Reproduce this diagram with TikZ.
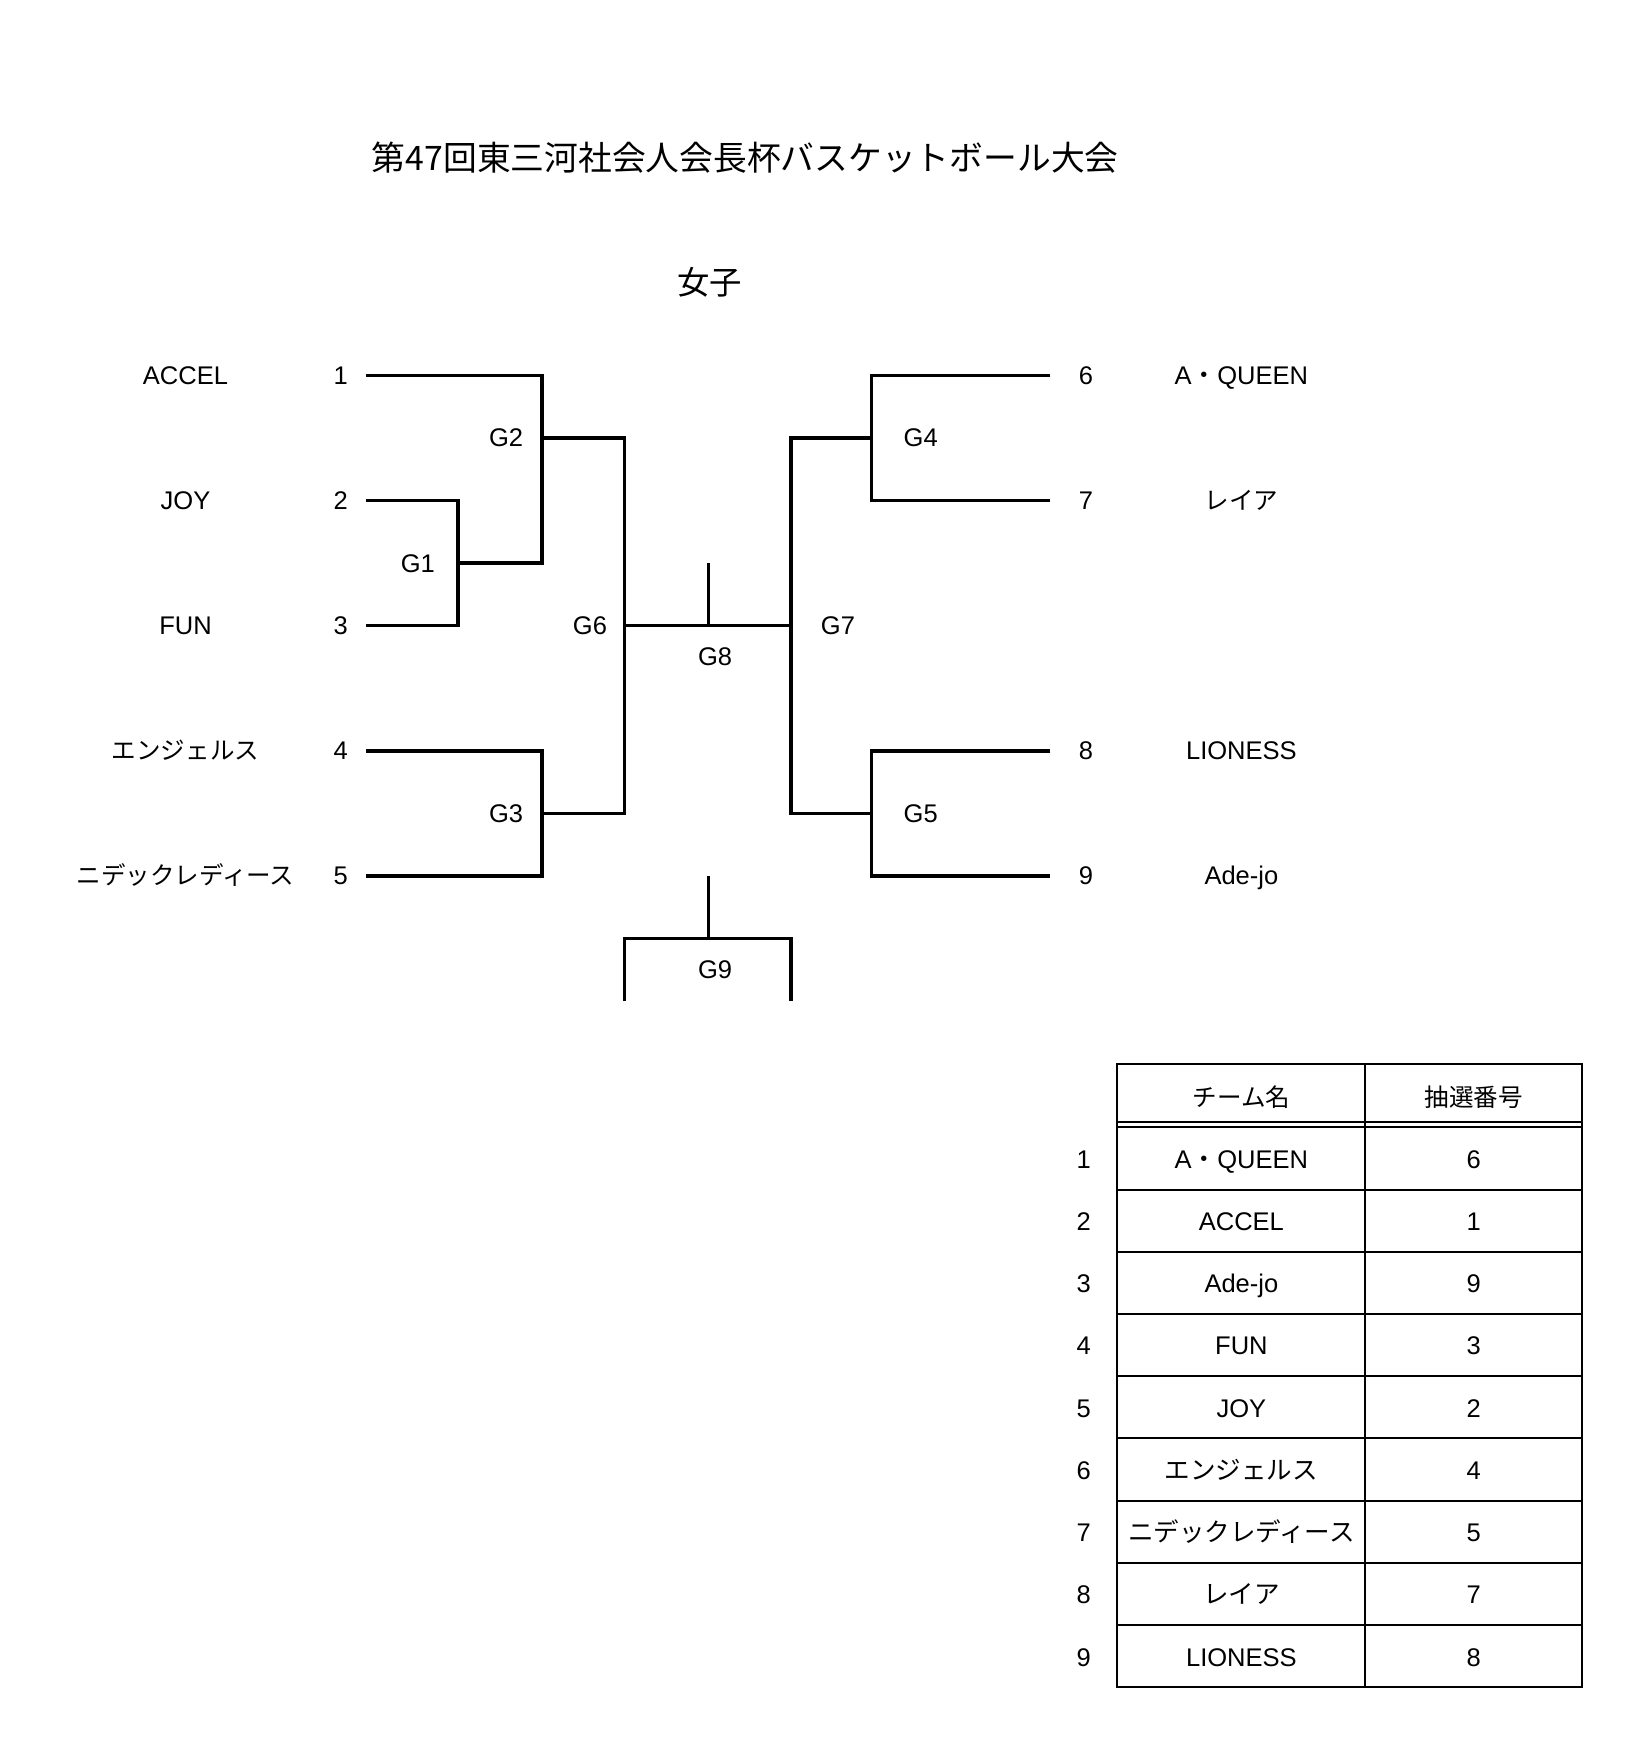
\documentclass[tikz,border=0pt]{standalone}
\usepackage{fontspec}
\setmainfont{Liberation Sans}
\newfontfamily\jp{Noto Sans CJK JP}
\usepackage{tikz}
\usetikzlibrary{calc}
\tikzstyle{tsText} = [
    text=black,
    font=\fontsize{13}{15}\selectfont,
    inner sep=0pt,
    text height=0.40cm,
    text depth=0.08cm
]
\tikzstyle{tsJp} = [
    tsText,
    font=\jp\fontsize{12.5}{15}\selectfont
]
\tikzstyle{tsBracket} = [
    draw=black,
    line width=0.06cm
]
\tikzstyle{tsTable} = [
    draw=black,
    line width=0.035cm
]
\begin{document}
\begin{tikzpicture} [x=0.02cm, y=-0.02cm]

        \useasboundingbox (0,0) rectangle (1472,1568);

        % Title
        \node[tsJp, font=\jp\fontsize{17.2}{20}\selectfont] (title) at (667,145) {第47回東三河社会人会長杯バスケットボール大会};
        \node[tsJp, font=\jp\fontsize{16.5}{20}\selectfont] (women) at (635,256) {女子};

        % Left teams with numbers
        \node[tsText] (accel) at (166,336) {ACCEL};
        \node[tsText] (joy) at (166,448) {JOY};
        \node[tsText] (fun) at (166,560) {FUN};
        \node[tsJp] (angels) at (166,672) {エンジェルス};
        \node[tsJp] (nidec) at (166,784) {ニデックレディース};
        \node[tsText] (n1) at (305,336) {1};
        \node[tsText] (n2) at (305,448) {2};
        \node[tsText] (n3) at (305,560) {3};
        \node[tsText] (n4) at (305,672) {4};
        \node[tsText] (n5) at (305,784) {5};

        % Right teams with numbers
        \node[tsText] (n6) at (972,336) {6};
        \node[tsText] (n7) at (972,448) {7};
        \node[tsText] (n8) at (972,672) {8};
        \node[tsText] (n9) at (972,784) {9};
        \node[tsText] (queen) at (1111,336) {A{\jp ・}QUEEN};
        \node[tsJp] (leia) at (1111,448) {レイア};
        \node[tsText] (lioness) at (1111,672) {LIONESS};
        \node[tsText] (adejo) at (1111,784) {Ade-jo};

        % Line ends next to the numbers
        \coordinate (p1) at (328,336);
        \coordinate (p2) at (328,448);
        \coordinate (p3) at (328,560);
        \coordinate (p4) at (328,672);
        \coordinate (p5) at (328,784);
        \coordinate (q6) at (940,336);
        \coordinate (q7) at (940,448);
        \coordinate (q8) at (940,672);
        \coordinate (q9) at (940,784);

        % Game points
        \coordinate (g1) at (410,504);
        \coordinate (g2) at (485,392);
        \coordinate (g3) at (485,728);
        \coordinate (g6) at (559,560);
        \coordinate (g7) at (708,560);
        \coordinate (g4) at (780,392);
        \coordinate (g5) at (780,728);
        \coordinate (g8) at (634,560);
        \coordinate (g8top) at (634,504);
        \coordinate (g9) at (634,840);
        \coordinate (g9top) at (634,784);
        \coordinate (g9l) at (559,896);
        \coordinate (g9r) at (708,896);

        % Bracket lines, left half
        \draw[tsBracket] (p2) -| (g1);
        \draw[tsBracket] (p3) -| (g1);
        \draw[tsBracket] (p1) -| (g2);
        \draw[tsBracket] (g1) -| (g2);
        \draw[tsBracket] (p4) -| (g3);
        \draw[tsBracket] (p5) -| (g3);
        \draw[tsBracket] (g2) -| (g6);
        \draw[tsBracket] (g3) -| (g6);

        % Bracket lines, right half
        \draw[tsBracket] (q6) -| (g4);
        \draw[tsBracket] (q7) -| (g4);
        \draw[tsBracket] (q8) -| (g5);
        \draw[tsBracket] (q9) -| (g5);
        \draw[tsBracket] (g4) -| (g7);
        \draw[tsBracket] (g5) -| (g7);

        % Final and third place
        \draw[tsBracket] (g6) -- (g7);
        \draw[tsBracket] (g8top) -- (g8);
        \draw[tsBracket] (g9l) |- (g9) -| (g9r);
        \draw[tsBracket] (g9top) -- (g9);

        % Game labels
        \node[tsText] (lg1) at (374,504) {G1};
        \node[tsText] (lg2) at (453,392) {G2};
        \node[tsText] (lg3) at (453,728) {G3};
        \node[tsText] (lg4) at (824,392) {G4};
        \node[tsText] (lg5) at (824,728) {G5};
        \node[tsText] (lg6) at (528,560) {G6};
        \node[tsText] (lg7) at (750,560) {G7};
        \node[tsText] (lg8) at (640,588) {G8};
        \node[tsText] (lg9) at (640,868) {G9};

        % Draw table
        \draw[tsTable] (1000,952) rectangle (1416,1510);
        \draw[tsTable] (1222,952) -- (1222,1510);
        \draw[tsTable] (1000,1004) -- (1416,1004);
        \draw[tsTable] (1000,1009) -- (1416,1009);
        \foreach \i in {1,...,8}
            \draw[tsTable] (1000,{1009+55.67*\i}) -- (1416,{1009+55.67*\i});

        \node[tsJp] (hname) at (1111,982) {チーム名};
        \node[tsJp] (hdraw) at (1319,982) {抽選番号};

        \foreach \i/\team/\num in {1/{A{\jp ・}QUEEN}/6, 2/ACCEL/1, 3/Ade-jo/9,
                4/FUN/3, 5/JOY/2, 6/{{\jp エンジェルス}}/4,
                7/{{\jp ニデックレディース}}/5, 8/{{\jp レイア}}/7, 9/LIONESS/8} {
            \node[tsText] (r\i) at (970,{1037.5+55.7*(\i-1)}) {\i};
            \node[tsText] (t\i) at (1111,{1037.5+55.7*(\i-1)}) {\team};
            \node[tsText] (d\i) at (1319,{1037.5+55.7*(\i-1)}) {\num};
        }

\end{tikzpicture}
\end{document}
